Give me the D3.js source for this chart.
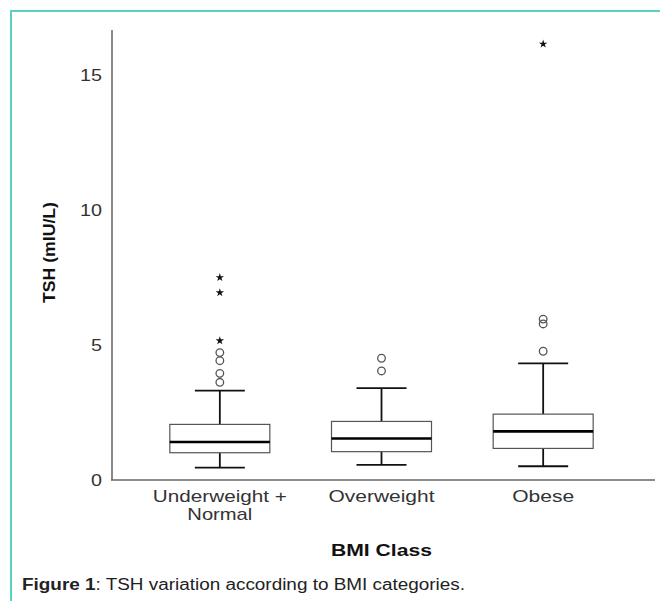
<!DOCTYPE html>
<html>
<head>
<meta charset="utf-8">
<script src="https://cdn.jsdelivr.net/npm/d3@7"></script>
<style>
  body { margin: 0; background: #fff; }
  svg { display: block; font-family: "Liberation Sans", Arial, sans-serif; }
</style>
</head>
<body>
<svg id="chart" width="660" height="601"></svg>
<script>
const categories = ["Underweight + Normal", "Overweight", "Obese"];
const categoryLines = [["Underweight +", "Normal"], ["Overweight"], ["Obese"]];
// [lower whisker, Q1, median, Q3, upper whisker]
const boxStats = [
  [0.46, 1.01, 1.41, 2.06, 3.31],
  [0.56, 1.05, 1.54, 2.17, 3.40],
  [0.51, 1.17, 1.80, 2.44, 4.32]
];
const circleOutliers = [
  [4.72, 4.42, 3.95, 3.62],
  [4.51, 4.04],
  [5.96, 5.78, 4.77]
];
const starOutliers = [
  [7.5, 6.94, 5.16],
  [],
  [16.15]
];
const yTicks = [0, 5, 10, 15];

const svg = d3.select("#chart");

// rendered widths of the labels in the original figure (it looks stretched)
const labelWidth = { "Underweight +": 134, "Normal": 65, "Overweight": 106, "Obese": 62 };

// teal frame
svg.append("rect")
  .attr("x", 11).attr("y", 11)
  .attr("width", 700).attr("height", 700)
  .attr("fill", "none")
  .attr("stroke", "#5ad2c2")
  .attr("stroke-width", 2);

const x = d3.scaleBand().domain(categories).range([139, 624]);
const y = d3.scaleLinear().domain([0, 16.67]).range([480, 30]);
const boxW = 100, capW = 50;

// axes
svg.append("line")
  .attr("x1", 112).attr("x2", 112)
  .attr("y1", y(16.67)).attr("y2", y(0))
  .attr("stroke", "#8a8a8a").attr("stroke-width", 2);
svg.append("line")
  .attr("x1", 111).attr("x2", 655)
  .attr("y1", y(0)).attr("y2", y(0))
  .attr("stroke", "#666").attr("stroke-width", 1.5);

svg.selectAll(".ytick")
  .data(yTicks)
  .enter().append("text")
  .attr("x", 102)
  .attr("y", d => y(d))
  .attr("dy", "0.36em")
  .attr("text-anchor", "end")
  .attr("font-size", 17)
  .attr("fill", "#333")
  .attr("textLength", d => String(d).length * 11)
  .attr("lengthAdjust", "spacingAndGlyphs")
  .text(d => d);

const groups = svg.selectAll(".box")
  .data(boxStats)
  .enter().append("g")
  .attr("transform", (d, i) => `translate(${x(categories[i]) + x.bandwidth() / 2},0)`);

// whiskers
groups.append("line")
  .attr("x1", 0).attr("x2", 0)
  .attr("y1", d => y(d[3])).attr("y2", d => y(d[4]))
  .attr("stroke", "#111").attr("stroke-width", 1.8);
groups.append("line")
  .attr("x1", 0).attr("x2", 0)
  .attr("y1", d => y(d[0])).attr("y2", d => y(d[1]))
  .attr("stroke", "#111").attr("stroke-width", 1.8);
groups.append("line")
  .attr("x1", -capW / 2).attr("x2", capW / 2)
  .attr("y1", d => y(d[4])).attr("y2", d => y(d[4]))
  .attr("stroke", "#111").attr("stroke-width", 1.8);
groups.append("line")
  .attr("x1", -capW / 2).attr("x2", capW / 2)
  .attr("y1", d => y(d[0])).attr("y2", d => y(d[0]))
  .attr("stroke", "#111").attr("stroke-width", 1.8);

// box
groups.append("rect")
  .attr("x", -boxW / 2)
  .attr("width", boxW)
  .attr("y", d => y(d[3]))
  .attr("height", d => y(d[1]) - y(d[3]))
  .attr("fill", "#fff")
  .attr("stroke", "#555")
  .attr("stroke-width", 1.2);

// median
groups.append("line")
  .attr("x1", -boxW / 2).attr("x2", boxW / 2)
  .attr("y1", d => y(d[2])).attr("y2", d => y(d[2]))
  .attr("stroke", "#000").attr("stroke-width", 2.6);

// outliers
groups.each(function(d, i) {
  const g = d3.select(this);
  g.selectAll(".circ")
    .data(circleOutliers[i])
    .enter().append("circle")
    .attr("cx", 0)
    .attr("cy", v => y(v))
    .attr("r", 3.8)
    .attr("fill", "none")
    .attr("stroke", "#555")
    .attr("stroke-width", 1.3);
  g.selectAll(".star")
    .data(starOutliers[i])
    .enter().append("path")
    .attr("transform", v => `translate(0,${y(v)})`)
    .attr("d", d3.symbol(d3.symbolStar, 22))
    .attr("fill", "#111");
});

// category labels
categories.forEach((c, i) => {
  categoryLines[i].forEach((t, j) => {
    svg.append("text")
      .attr("x", x(c) + x.bandwidth() / 2 - labelWidth[t] / 2)
      .attr("y", 502 + j * 18)
      .attr("font-size", 17)
      .attr("fill", "#333")
      .attr("textLength", labelWidth[t])
      .attr("lengthAdjust", "spacingAndGlyphs")
      .text(t);
  });
});

// axis titles
svg.append("text")
  .attr("x", 331).attr("y", 556)
  .attr("font-size", 17)
  .attr("font-weight", "bold")
  .attr("fill", "#111")
  .attr("textLength", 101)
  .attr("lengthAdjust", "spacingAndGlyphs")
  .text("BMI Class");

svg.append("text")
  .attr("transform", "translate(55,303) rotate(-90)")
  .attr("font-size", 16)
  .attr("font-weight", "bold")
  .attr("fill", "#111")
  .attr("textLength", 101)
  .attr("lengthAdjust", "spacingAndGlyphs")
  .text("TSH (mIU/L)");

// caption
const cap = svg.append("text")
  .attr("x", 22).attr("y", 590)
  .attr("font-size", 16)
  .attr("fill", "#222")
  .attr("textLength", 443)
  .attr("lengthAdjust", "spacingAndGlyphs");
cap.append("tspan").attr("font-weight", "bold").text("Figure 1");
cap.append("tspan").text(": TSH variation according to BMI categories.");
</script>
</body>
</html>
